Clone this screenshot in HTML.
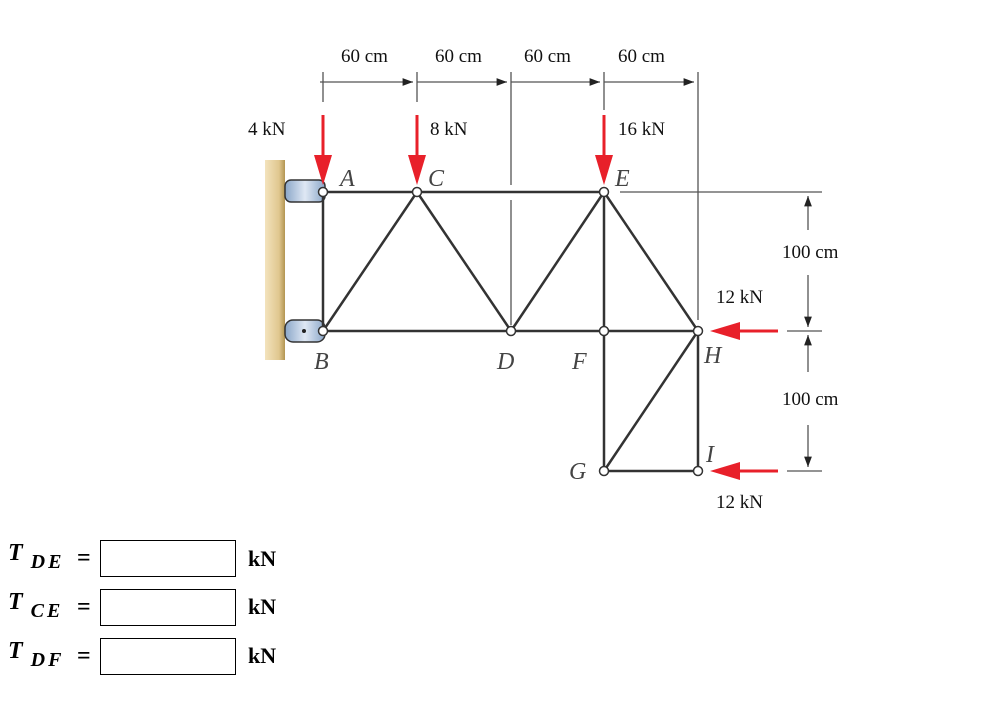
<!DOCTYPE html>
<html><head><style>
body{margin:0;background:#fff;width:1008px;height:710px;overflow:hidden;position:relative;font-family:"Liberation Serif",serif}
.l{position:absolute;font-family:"Liberation Serif",serif;font-weight:bold;font-style:italic;font-size:24px}
.s{font-size:20px;position:relative;top:8px;letter-spacing:3px}
.eq{position:absolute;font-family:"Liberation Serif",serif;font-weight:bold;font-size:24px}
.box{position:absolute;left:100px;width:136px;height:37px;border:1px solid #000;box-sizing:border-box}
.kn{position:absolute;left:248px;font-family:"Liberation Serif",serif;font-weight:bold;font-size:22px}
</style></head><body>
<svg width="1008" height="530" style="position:absolute;left:0;top:0" font-family="Liberation Serif, serif">
<defs>
<linearGradient id="w" x1="0" x2="1"><stop offset="0" stop-color="#f3e3bd"/><stop offset="0.7" stop-color="#e0c78f"/><stop offset="1" stop-color="#b39552"/></linearGradient>
<linearGradient id="bl" x1="0" x2="1"><stop offset="0" stop-color="#8aa6c8"/><stop offset="0.5" stop-color="#dfe8f4"/><stop offset="1" stop-color="#8aa6c8"/></linearGradient>
<marker id="t" markerWidth="8" markerHeight="6" refX="8" refY="3" orient="auto"><path d="M0,0L8,3L0,6z" fill="#222"/></marker>
</defs>
<g stroke="#555" stroke-width="1.3" fill="none">
<line x1="323" y1="72" x2="323" y2="102"/><line x1="417" y1="72" x2="417" y2="102"/>
<line x1="511" y1="72" x2="511" y2="185"/><line x1="511" y1="200" x2="511" y2="325"/>
<line x1="604" y1="72" x2="604" y2="110"/><line x1="698" y1="72" x2="698" y2="320"/>
<line x1="320" y1="82" x2="413" y2="82" marker-end="url(#t)"/><line x1="417" y1="82" x2="507" y2="82" marker-end="url(#t)"/>
<line x1="511" y1="82" x2="600" y2="82" marker-end="url(#t)"/><line x1="604" y1="82" x2="694" y2="82" marker-end="url(#t)"/>
<line x1="620" y1="192" x2="822" y2="192"/>
<line x1="787" y1="331" x2="822" y2="331"/><line x1="787" y1="471" x2="822" y2="471"/>
<line x1="808" y1="230" x2="808" y2="196" marker-end="url(#t)"/><line x1="808" y1="275" x2="808" y2="327" marker-end="url(#t)"/>
<line x1="808" y1="372" x2="808" y2="335" marker-end="url(#t)"/><line x1="808" y1="425" x2="808" y2="467" marker-end="url(#t)"/>
</g>
<rect x="265" y="160" width="20" height="200" fill="url(#w)"/>
<rect x="285" y="180" width="40" height="22" rx="6" fill="url(#bl)" stroke="#333" stroke-width="1.5"/>
<rect x="285" y="320" width="40" height="22" rx="8" fill="url(#bl)" stroke="#333" stroke-width="1.5"/>
<circle cx="304" cy="331" r="2" fill="#222"/>
<g stroke="#333" stroke-width="2.5" fill="none">
<line x1="323" y1="192" x2="604" y2="192"/>
<line x1="323" y1="192" x2="323" y2="331"/>
<line x1="323" y1="331" x2="698" y2="331"/>
<line x1="323" y1="331" x2="417" y2="192"/><line x1="417" y1="192" x2="511" y2="331"/>
<line x1="511" y1="331" x2="604" y2="192"/><line x1="604" y1="192" x2="698" y2="331"/>
<line x1="604" y1="192" x2="604" y2="471"/><line x1="698" y1="331" x2="698" y2="471"/>
<line x1="604" y1="471" x2="698" y2="331"/><line x1="604" y1="471" x2="698" y2="471"/>
</g>
<g fill="#fff" stroke="#333" stroke-width="1.5">
<circle cx="323" cy="192" r="4.5"/><circle cx="417" cy="192" r="4.5"/><circle cx="604" cy="192" r="4.5"/>
<circle cx="323" cy="331" r="4.5"/><circle cx="511" cy="331" r="4.5"/><circle cx="604" cy="331" r="4.5"/>
<circle cx="698" cy="331" r="4.5"/><circle cx="604" cy="471" r="4.5"/><circle cx="698" cy="471" r="4.5"/>
</g>
<g fill="#e8202a" stroke="#e8202a" stroke-width="3">
<line x1="323" y1="115" x2="323" y2="160"/><path d="M314,155L332,155L323,185z" stroke="none"/>
<line x1="417" y1="115" x2="417" y2="160"/><path d="M408,155L426,155L417,185z" stroke="none"/>
<line x1="604" y1="115" x2="604" y2="160"/><path d="M595,155L613,155L604,185z" stroke="none"/>
<line x1="735" y1="331" x2="778" y2="331"/><path d="M740,322L740,340L710,331z" stroke="none"/>
<line x1="735" y1="471" x2="778" y2="471"/><path d="M740,462L740,480L710,471z" stroke="none"/>
</g>
<g font-size="19" fill="#111">
<text x="341" y="62">60 cm</text><text x="435" y="62">60 cm</text><text x="524" y="62">60 cm</text><text x="618" y="62">60 cm</text>
<text x="248" y="135">4 kN</text><text x="430" y="135">8 kN</text><text x="618" y="135">16 kN</text>
<text x="782" y="258">100 cm</text><text x="782" y="405">100 cm</text>
<text x="716" y="303">12 kN</text><text x="716" y="508">12 kN</text>
</g>
<g font-size="24" font-style="italic" fill="#444">
<text x="340" y="186">A</text><text x="428" y="186">C</text><text x="615" y="186">E</text>
<text x="314" y="369">B</text><text x="497" y="369">D</text><text x="572" y="369">F</text>
<text x="704" y="363">H</text><text x="706" y="462">I</text><text x="569" y="479">G</text>
</g>
</svg>
<div class="l" style="left:8px;top:540px">T<span class="s"> DE</span></div>
<div class="eq" style="left:77px;top:545px">=</div><div class="box" style="top:540px"></div><div class="kn" style="top:546px">kN</div>
<div class="l" style="left:8px;top:589px">T<span class="s"> CE</span></div>
<div class="eq" style="left:77px;top:594px">=</div><div class="box" style="top:589px"></div><div class="kn" style="top:594px">kN</div>
<div class="l" style="left:8px;top:638px">T<span class="s"> DF</span></div>
<div class="eq" style="left:77px;top:643px">=</div><div class="box" style="top:638px"></div><div class="kn" style="top:643px">kN</div>
</body></html>
